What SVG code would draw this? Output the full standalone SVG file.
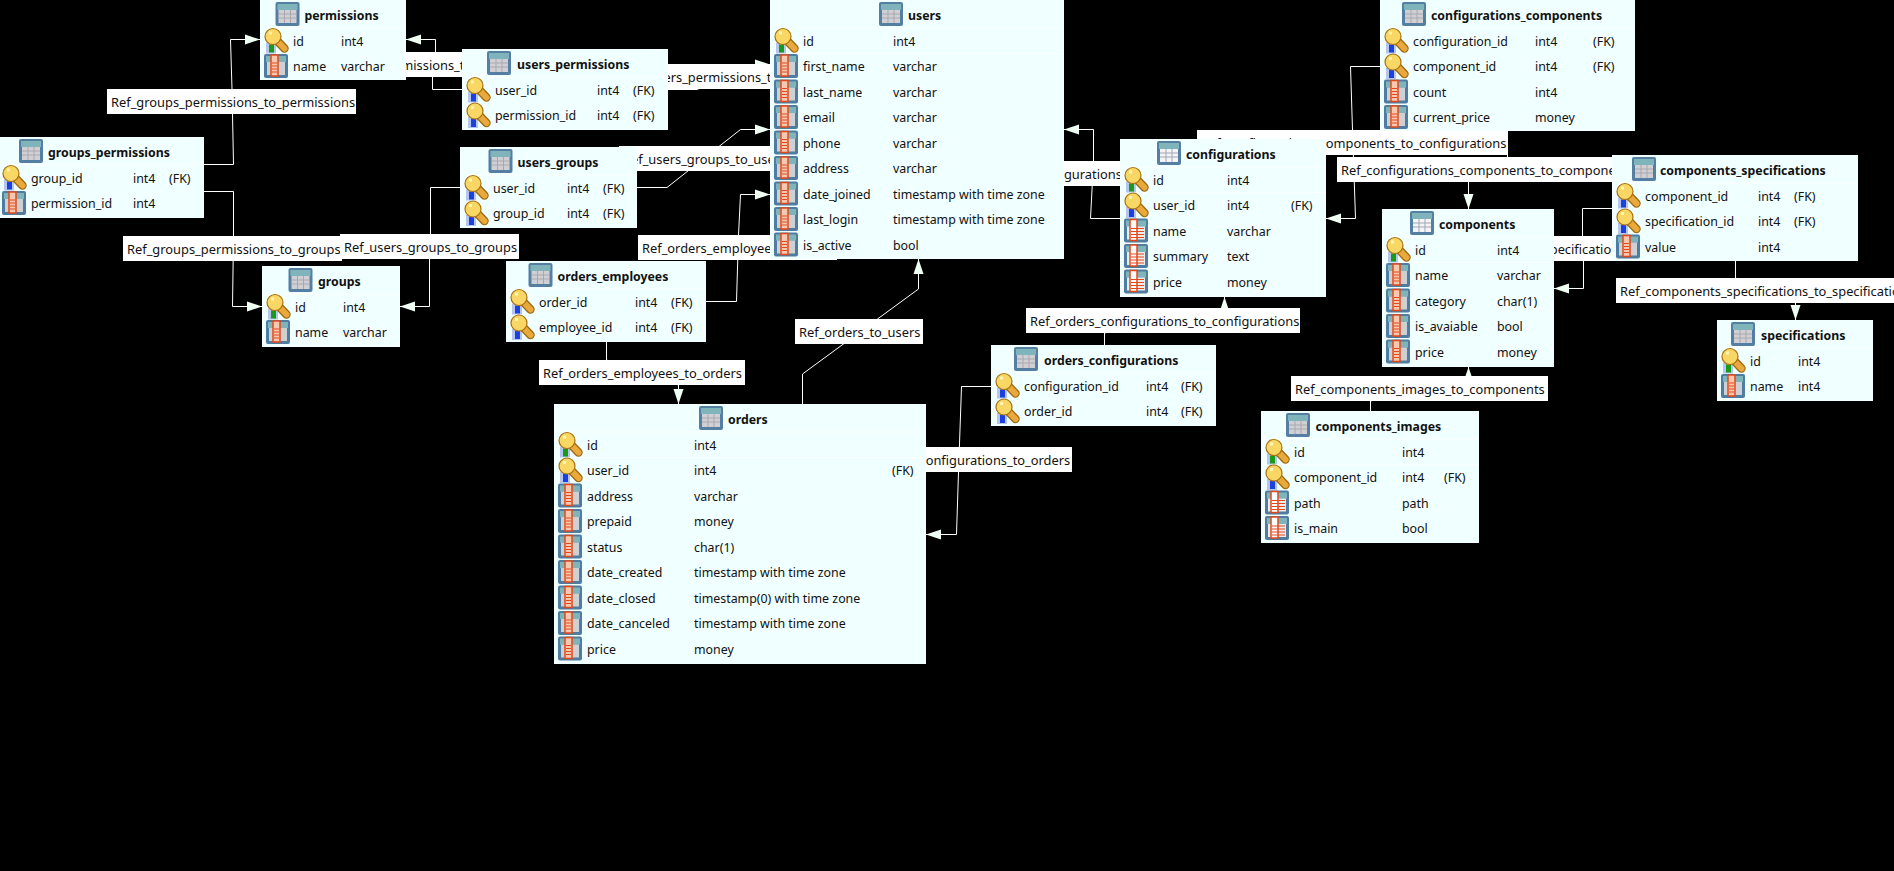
<svg xmlns="http://www.w3.org/2000/svg" width="1894" height="871" viewBox="0 0 1894 871">
<style>
text{font-family:"Noto Sans","Open Sans","DejaVu Sans",sans-serif;font-size:12.4px;fill:#111}
#connector-labels text{font-size:12.85px}
.h{font-weight:700;font-size:12.3px}
.n{fill:#f0ffff}
.s{stroke:#fbffff;stroke-width:1}
.c{fill:none;stroke:#fff;stroke-width:1;marker-end:url(#a)}
.l{fill:#fff}
</style>
<defs>
<marker id="a" markerUnits="userSpaceOnUse" markerWidth="16" markerHeight="12" refX="15" refY="5.5" orient="auto"><polygon points="0,0.5 15,5.5 0,10.5" fill="#f0fff4"/></marker>
<g id="tbl"><rect width="24" height="24" rx="2" fill="#547fa3"/><rect x="2" y="2" width="20" height="6" fill="#7fb5ba"/><rect x="3" y="8" width="18" height="13" fill="#d0d0d4"/><path d="M3 12h18M3 16h18M9 8v13M15 8v13" stroke="#a8a8b0" stroke-width="1"/></g>
<g id="tbl2"><rect width="24" height="24" rx="2" fill="#547fa3"/><rect x="2" y="2" width="20" height="6" fill="#7fb5ba"/><rect x="3" y="8" width="18" height="13" fill="#f4f4f4"/><path d="M3 12h18M3 16h18M9 8v13M15 8v13" stroke="#9fa8b8" stroke-width="1"/></g>
<g id="col"><rect width="24" height="24" rx="2" fill="#4f7da2"/><rect x="2" y="2" width="20" height="6" fill="#7fb5ba"/><rect x="3" y="8" width="18" height="13" fill="#cfd0d4"/><rect x="7" y="1" width="7" height="21" fill="#f6c8b0" stroke="#e2491a" stroke-width="1.5"/><path d="M8 9h5M8 12h5M8 15h5M8 18h5" stroke="#e2491a" stroke-width="1.200"/></g>
<g id="col2"><rect width="24" height="24" rx="2" fill="#4f7da2"/><rect x="2" y="2" width="20" height="6" fill="#7fb5ba"/><rect x="3" y="8" width="18" height="13" fill="#ececec"/><rect x="6" y="1" width="7" height="21" fill="#fff" stroke="#e2491a" stroke-width="1.5"/><path d="M7 10h13M7 13h13M7 16h13M7 19h13" stroke="#e2491a" stroke-width="1"/></g>
<g id="kp"><rect x="2" y="14" width="10" height="11" fill="#b4c6ee"/><rect x="5" y="16" width="5" height="8" fill="#1a9a1a"/><path d="M11 10L20.500 20" stroke="#9c6a10" stroke-width="8.500" stroke-linecap="round"/><path d="M11 10L20.500 20" stroke="#e9a93c" stroke-width="6" stroke-linecap="round"/><circle cx="9" cy="8" r="8" fill="#f8d765" stroke="#a8700f" stroke-width="1.200"/><rect x="5" y="3" width="3" height="3" fill="#fff3b8"/></g>
<g id="kf"><rect x="2" y="14" width="10" height="11" fill="#b4c6ee"/><rect x="5" y="16" width="5" height="8" fill="#1c40e0"/><path d="M11 10L20.500 20" stroke="#9c6a10" stroke-width="8.500" stroke-linecap="round"/><path d="M11 10L20.500 20" stroke="#e9a93c" stroke-width="6" stroke-linecap="round"/><circle cx="9" cy="8" r="8" fill="#f8d765" stroke="#a8700f" stroke-width="1.200"/><rect x="5" y="3" width="3" height="3" fill="#fff3b8"/></g>
</defs>
<rect width="1894" height="871" fill="#000"/>

<g id="connectors">
<path class="c" d="M204 164.500H233.500L232 89L230.500 39.500H260"/>
<path class="c" d="M204 191.500H233.500V236L232.500 306.500H262"/>
<path class="c" d="M462 89.500H432.500V77L435.500 52V39.500H406"/>
<path class="c" d="M460 187.500H430.500V234L429.500 259V306.500H400"/>
<path class="c" d="M668 89.500H697.500L740 64.500H770"/>
<path class="c" d="M637 187.500H667L740.500 129.500H770"/>
<path class="c" d="M706 301.500H736.500L738.500 235L740.500 194.500H770"/>
<path class="c" d="M802.500 404V374L877.500 319L918.500 289V259"/>
<path class="c" d="M606.500 342V360L678.500 385V404"/>
<path class="c" d="M991 386.500H961.500L958.500 472L956.500 534.500H926"/>
<path class="c" d="M1104.500 345V333L1224.500 308V297"/>
<path class="c" d="M1120 218.500H1090.500L1093.500 161V129.500H1064"/>
<path class="c" d="M1380 66.500H1350.500L1352.500 130L1355.500 218.500H1326"/>
<path class="c" d="M1507.500 131V157L1468.500 182V209"/>
<path class="c" d="M1612 208.500H1582.500V236L1583.500 261V288.500H1554"/>
<path class="c" d="M1735.500 261V278L1795.500 303V320"/>
<path class="c" d="M1370.500 411V401L1468.500 376V367"/>
</g>

<g id="connector-labels">
<g><rect class="l" x="107" y="89" width="249" height="25"/><text x="111" y="107">Ref_groups_permissions_to_permissions</text></g>
<g><rect class="l" x="123" y="236" width="219" height="25"/><text x="127" y="254">Ref_groups_permissions_to_groups</text></g>
<g><rect class="l" x="340" y="234" width="179" height="25"/><text x="344" y="252">Ref_users_groups_to_groups</text></g>
<g><rect class="l" x="313" y="52" width="240" height="25"/><text x="317" y="70">Ref_users_permissions_to_permissions</text></g>
<g><rect class="l" x="620" y="64" width="204" height="25"/><text x="624" y="82">Ref_users_permissions_to_users</text></g>
<g><rect class="l" x="619" y="146" width="176" height="25"/><text x="623" y="164">Ref_users_groups_to_users</text></g>
<g><rect class="l" x="638" y="235" width="199" height="25"/><text x="642" y="253">Ref_orders_employees_to_users</text></g>
<g><rect class="l" x="795" y="319" width="128" height="25"/><text x="799" y="337">Ref_orders_to_users</text></g>
<g><rect class="l" x="539" y="360" width="206" height="25"/><text x="543" y="378">Ref_orders_employees_to_orders</text></g>
<g><rect class="l" x="1026" y="308" width="274" height="25"/><text x="1030" y="326">Ref_orders_configurations_to_configurations</text></g>
<g><rect class="l" x="846" y="447" width="226" height="25"/><text x="849" y="465">Ref_orders_configurations_to_orders</text></g>
<g><rect class="l" x="1000" y="161" width="190" height="25"/><text x="1009" y="179">Ref_configurations_to_users</text></g>
<g><rect class="l" x="1197" y="130" width="311" height="25"/><text x="1201" y="148">Ref_configurations_components_to_configurations</text></g>
<g><rect class="l" x="1337" y="157" width="303" height="25"/><text x="1341" y="175">Ref_configurations_components_to_components</text></g>
<g><rect class="l" x="1433" y="236" width="299" height="25"/><text x="1437" y="254">Ref_components_specifications_to_components</text></g>
<g><rect class="l" x="1616" y="278" width="310" height="25"/><text x="1620" y="296">Ref_components_specifications_to_specifications</text></g>
<g><rect class="l" x="1291" y="376" width="257" height="25"/><text x="1295" y="394">Ref_components_images_to_components</text></g>
</g>

<g id="permissions" transform="translate(260 0)"><rect class="n" width="146" height="80"/><path class="s" d="M0 28H146"/><use href="#tbl" x="15.500" y="2"/><text class="h" x="44.500" y="20">permissions</text>
<use href="#kp" x="4" y="28.500"/><text x="33" y="45.500">id</text><text x="81" y="45.500">int4</text>
<use href="#col" x="4" y="54"/><text x="33" y="71">name</text><text x="81" y="71">varchar</text></g>

<g id="users_permissions" transform="translate(462 49)"><rect class="n" width="206" height="81"/><path class="s" d="M0 28H206"/><use href="#tbl" x="25" y="2"/><text class="h" x="55" y="20">users_permissions</text>
<use href="#kf" x="4" y="28.500"/><text x="33" y="45.500">user_id</text><text x="135" y="45.500">int4</text><text x="171" y="45.500">(FK)</text>
<use href="#kf" x="4" y="54"/><text x="33" y="71">permission_id</text><text x="135" y="71">int4</text><text x="171" y="71">(FK)</text></g>

<g id="groups_permissions" transform="translate(-2 137)"><rect class="n" width="206" height="81"/><path class="s" d="M0 28H206"/><use href="#tbl" x="21" y="2"/><text class="h" x="50" y="20">groups_permissions</text>
<use href="#kf" x="4" y="28.500"/><text x="33" y="45.500">group_id</text><text x="135" y="45.500">int4</text><text x="171" y="45.500">(FK)</text>
<use href="#col" x="4" y="54"/><text x="33" y="71">permission_id</text><text x="135" y="71">int4</text></g>

<g id="users_groups" transform="translate(460 147)"><rect class="n" width="177" height="81"/><path class="s" d="M0 28H177"/><use href="#tbl" x="28.500" y="2"/><text class="h" x="57.500" y="20">users_groups</text>
<use href="#kf" x="4" y="28.500"/><text x="33" y="45.500">user_id</text><text x="107" y="45.500">int4</text><text x="143" y="45.500">(FK)</text>
<use href="#kf" x="4" y="54"/><text x="33" y="71">group_id</text><text x="107" y="71">int4</text><text x="143" y="71">(FK)</text></g>

<g id="groups" transform="translate(262 266)"><rect class="n" width="138" height="81"/><path class="s" d="M0 28H138"/><use href="#tbl" x="26.500" y="2"/><text class="h" x="56" y="20">groups</text>
<use href="#kp" x="4" y="28.500"/><text x="33" y="45.500">id</text><text x="81" y="45.500">int4</text>
<use href="#col" x="4" y="54"/><text x="33" y="71">name</text><text x="81" y="71">varchar</text></g>

<g id="orders_employees" transform="translate(506 261)"><rect class="n" width="200" height="81"/><path class="s" d="M0 28H200"/><use href="#tbl" x="22.500" y="2"/><text class="h" x="51.500" y="20">orders_employees</text>
<use href="#kf" x="4" y="28.500"/><text x="33" y="45.500">order_id</text><text x="129" y="45.500">int4</text><text x="165" y="45.500">(FK)</text>
<use href="#kf" x="4" y="54"/><text x="33" y="71">employee_id</text><text x="129" y="71">int4</text><text x="165" y="71">(FK)</text></g>

<g id="users" transform="translate(770 0)"><rect class="n" width="294" height="259"/><path class="s" d="M0 28H294M0 53.500H294"/><use href="#tbl" x="109" y="2"/><text class="h" x="138" y="20">users</text>
<use href="#kp" x="4" y="28.500"/><text x="33" y="45.500">id</text><text x="123" y="45.500">int4</text>
<use href="#col" x="4" y="54"/><text x="33" y="71">first_name</text><text x="123" y="71">varchar</text>
<use href="#col" x="4" y="79.500"/><text x="33" y="96.500">last_name</text><text x="123" y="96.500">varchar</text>
<use href="#col" x="4" y="105"/><text x="33" y="122">email</text><text x="123" y="122">varchar</text>
<use href="#col" x="4" y="130.500"/><text x="33" y="147.500">phone</text><text x="123" y="147.500">varchar</text>
<use href="#col" x="4" y="156"/><text x="33" y="173">address</text><text x="123" y="173">varchar</text>
<use href="#col" x="4" y="181.500"/><text x="33" y="198.500">date_joined</text><text x="123" y="198.500">timestamp with time zone</text>
<use href="#col" x="4" y="207"/><text x="33" y="224">last_login</text><text x="123" y="224">timestamp with time zone</text>
<use href="#col" x="4" y="232.500"/><text x="33" y="249.500">is_active</text><text x="123" y="249.500">bool</text></g>

<g id="configurations" transform="translate(1120 139)"><rect class="n" width="206" height="158"/><path class="s" d="M0 28H206M0 53.500H206"/><use href="#tbl2" x="37" y="2"/><text class="h" x="66" y="20">configurations</text>
<use href="#kp" x="4" y="28.500"/><text x="33" y="45.500">id</text><text x="107" y="45.500">int4</text>
<use href="#kf" x="4" y="54"/><text x="33" y="71">user_id</text><text x="107" y="71">int4</text><text x="171" y="71">(FK)</text>
<use href="#col2" x="4" y="79.500"/><text x="33" y="96.500">name</text><text x="107" y="96.500">varchar</text>
<use href="#col2" x="4" y="105"/><text x="33" y="122">summary</text><text x="107" y="122">text</text>
<use href="#col2" x="4" y="130.500"/><text x="33" y="147.500">price</text><text x="107" y="147.500">money</text></g>

<g id="configurations_components" transform="translate(1380 0)"><rect class="n" width="255" height="131"/><path class="s" d="M0 28H255"/><use href="#tbl" x="22" y="2"/><text class="h" x="51" y="20">configurations_components</text>
<use href="#kf" x="4" y="28.500"/><text x="33" y="45.500">configuration_id</text><text x="155" y="45.500">int4</text><text x="213" y="45.500">(FK)</text>
<use href="#kf" x="4" y="54"/><text x="33" y="71">component_id</text><text x="155" y="71">int4</text><text x="213" y="71">(FK)</text>
<use href="#col" x="4" y="79.500"/><text x="33" y="96.500">count</text><text x="155" y="96.500">int4</text>
<use href="#col" x="4" y="105"/><text x="33" y="122">current_price</text><text x="155" y="122">money</text></g>

<g id="components" transform="translate(1382 209)"><rect class="n" width="172" height="158"/><path class="s" d="M0 28H172M0 53.500H172"/><use href="#tbl2" x="28" y="2"/><text class="h" x="57" y="20">components</text>
<use href="#kp" x="4" y="28.500"/><text x="33" y="45.500">id</text><text x="115" y="45.500">int4</text>
<use href="#col" x="4" y="54"/><text x="33" y="71">name</text><text x="115" y="71">varchar</text>
<use href="#col" x="4" y="79.500"/><text x="33" y="96.500">category</text><text x="115" y="96.500">char(1)</text>
<use href="#col" x="4" y="105"/><text x="33" y="122">is_avaiable</text><text x="115" y="122">bool</text>
<use href="#col" x="4" y="130.500"/><text x="33" y="147.500">price</text><text x="115" y="147.500">money</text></g>

<g id="components_specifications" transform="translate(1612 155)"><rect class="n" width="246" height="106"/><path class="s" d="M0 28H246"/><use href="#tbl" x="20" y="2"/><text class="h" x="48" y="20">components_specifications</text>
<use href="#kf" x="4" y="28.500"/><text x="33" y="45.500">component_id</text><text x="146" y="45.500">int4</text><text x="182" y="45.500">(FK)</text>
<use href="#kf" x="4" y="54"/><text x="33" y="71">specification_id</text><text x="146" y="71">int4</text><text x="182" y="71">(FK)</text>
<use href="#col" x="4" y="79.500"/><text x="33" y="96.500">value</text><text x="146" y="96.500">int4</text></g>

<g id="specifications" transform="translate(1717 320)"><rect class="n" width="156" height="81"/><path class="s" d="M0 28H156"/><use href="#tbl" x="14" y="2"/><text class="h" x="44" y="20">specifications</text>
<use href="#kp" x="4" y="28.500"/><text x="33" y="45.500">id</text><text x="81" y="45.500">int4</text>
<use href="#col" x="4" y="54"/><text x="33" y="71">name</text><text x="81" y="71">int4</text></g>

<g id="components_images" transform="translate(1261 411)"><rect class="n" width="218" height="132"/><path class="s" d="M0 28H218M0 53.500H218"/><use href="#tbl" x="25" y="2"/><text class="h" x="54.500" y="20">components_images</text>
<use href="#kp" x="4" y="28.500"/><text x="33" y="45.500">id</text><text x="141" y="45.500">int4</text>
<use href="#kf" x="4" y="54"/><text x="33" y="71">component_id</text><text x="141" y="71">int4</text><text x="183" y="71">(FK)</text>
<use href="#col2" x="4" y="79.500"/><text x="33" y="96.500">path</text><text x="141" y="96.500">path</text>
<use href="#col2" x="4" y="105"/><text x="33" y="122">is_main</text><text x="141" y="122">bool</text></g>

<g id="orders_configurations" transform="translate(991 345)"><rect class="n" width="225" height="81"/><path class="s" d="M0 28H225"/><use href="#tbl" x="23" y="2"/><text class="h" x="53" y="20">orders_configurations</text>
<use href="#kf" x="4" y="28.500"/><text x="33" y="45.500">configuration_id</text><text x="155" y="45.500">int4</text><text x="190" y="45.500">(FK)</text>
<use href="#kf" x="4" y="54"/><text x="33" y="71">order_id</text><text x="155" y="71">int4</text><text x="190" y="71">(FK)</text></g>

<g id="orders" transform="translate(554 404)"><rect class="n" width="372" height="260"/><path class="s" d="M0 28H372M0 53.500H372"/><use href="#tbl" x="145" y="2"/><text class="h" x="174" y="20">orders</text>
<use href="#kp" x="4" y="28.500"/><text x="33" y="45.500">id</text><text x="140" y="45.500">int4</text>
<use href="#kf" x="4" y="54"/><text x="33" y="71">user_id</text><text x="140" y="71">int4</text><text x="338" y="71">(FK)</text>
<use href="#col" x="4" y="79.500"/><text x="33" y="96.500">address</text><text x="140" y="96.500">varchar</text>
<use href="#col" x="4" y="105"/><text x="33" y="122">prepaid</text><text x="140" y="122">money</text>
<use href="#col" x="4" y="130.500"/><text x="33" y="147.500">status</text><text x="140" y="147.500">char(1)</text>
<use href="#col" x="4" y="156"/><text x="33" y="173">date_created</text><text x="140" y="173">timestamp with time zone</text>
<use href="#col" x="4" y="181.500"/><text x="33" y="198.500">date_closed</text><text x="140" y="198.500">timestamp(0) with time zone</text>
<use href="#col" x="4" y="207"/><text x="33" y="224">date_canceled</text><text x="140" y="224">timestamp with time zone</text>
<use href="#col" x="4" y="232.500"/><text x="33" y="249.500">price</text><text x="140" y="249.500">money</text></g>
</svg>
